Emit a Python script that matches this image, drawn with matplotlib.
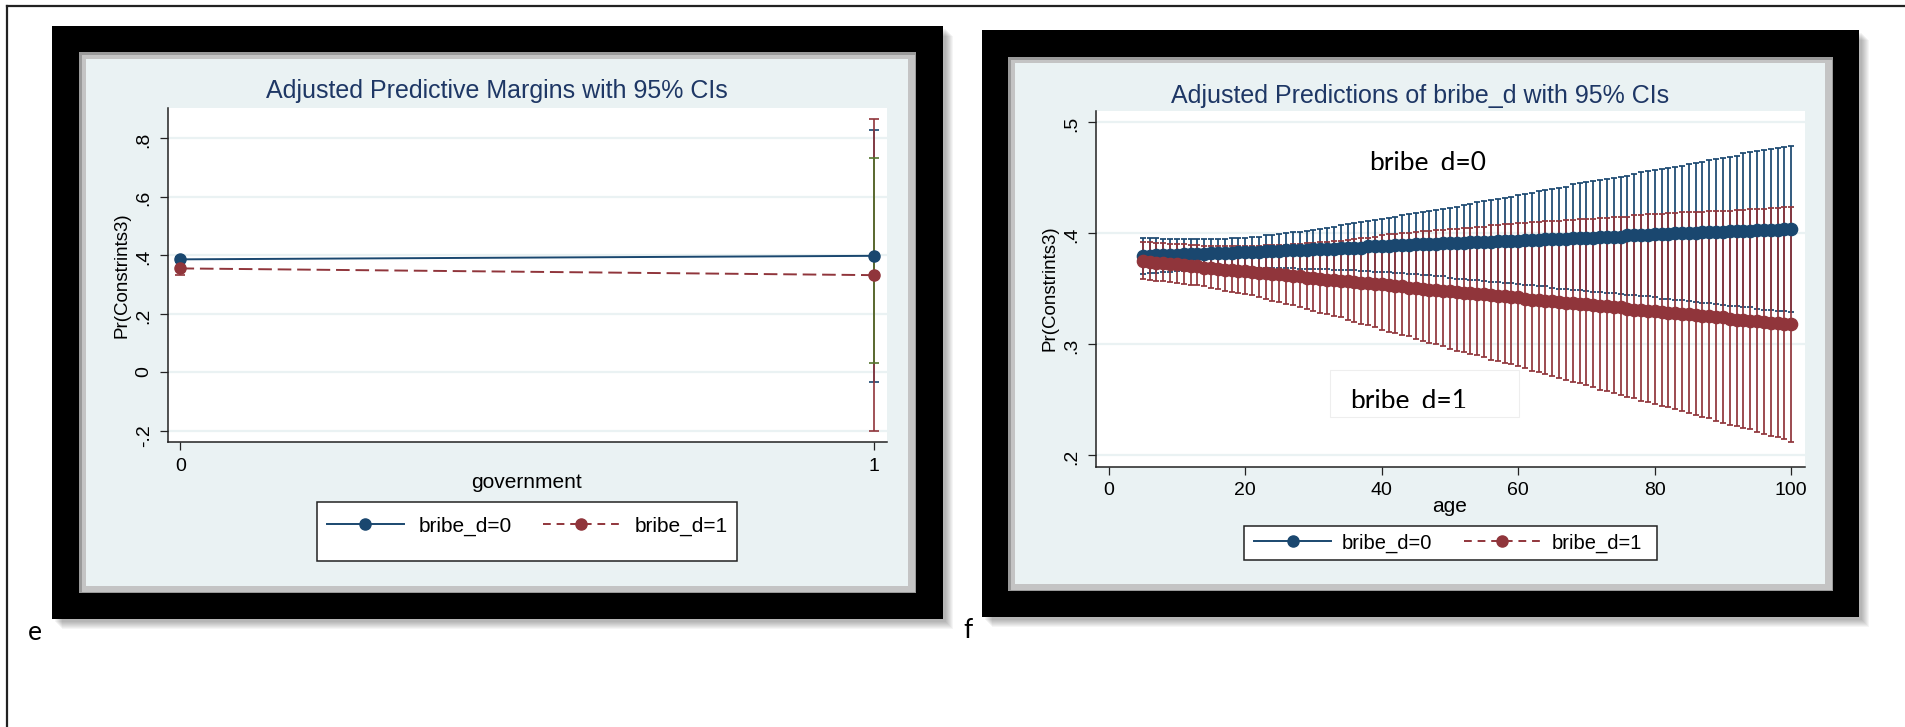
import numpy as np
import matplotlib
matplotlib.use("Agg")
import matplotlib.pyplot as plt
from matplotlib.patches import Rectangle
from matplotlib.lines import Line2D
from matplotlib.transforms import Bbox, TransformedBbox

# ---- panel e : margins by government ----
gov = [0, 1]
e_blue = [0.386, 0.398]
e_blue_lo = [0.378, -0.032]
e_blue_hi = [0.395, 0.827]
e_red = [0.355, 0.332]
e_red_lo = [0.334, -0.200]
e_red_hi = [0.377, 0.865]
e_green_x = [1]
e_green_lo = [0.032]
e_green_hi = [0.733]
e_yticks = [-0.2, 0, 0.2, 0.4, 0.6, 0.8]
e_ylabels = ['-.2', '0', '.2', '.4', '.6', '.8']

# ---- panel f : predictions by age (5..100) ----
age = list(range(5, 101))
f_blue = [.379, .379, .380, .380, .380, .380, .381, .381, .381, .381,
          .382, .382, .382, .382, .383, .383, .383, .383, .384, .384,
          .384, .385, .385, .385, .385, .386, .386, .386, .386, .387,
          .387, .387, .387, .388, .388, .388, .388, .389, .389, .389,
          .390, .390, .390, .390, .391, .391, .391, .391, .392, .392,
          .392, .392, .393, .393, .393, .393, .394, .394, .394, .395,
          .395, .395, .395, .396, .396, .396, .396, .397, .397, .397,
          .397, .398, .398, .398, .398, .399, .399, .399, .400, .400,
          .400, .400, .401, .401, .401, .401, .402, .402, .402, .402,
          .403, .403, .403, .403, .404, .404]
f_blue_hi = [.396, .396, .396, .395, .395, .395, .395, .395, .395, .395,
             .395, .395, .395, .396, .396, .396, .397, .397, .398, .398,
             .399, .400, .401, .401, .402, .403, .404, .405, .406, .407,
             .408, .409, .410, .411, .412, .413, .414, .415, .416, .417,
             .418, .419, .420, .421, .422, .423, .424, .425, .426, .428,
             .429, .430, .431, .432, .433, .434, .435, .436, .438, .439,
             .440, .441, .442, .444, .445, .446, .447, .448, .449, .450,
             .451, .452, .453, .455, .456, .457, .458, .459, .460, .461,
             .462, .463, .464, .466, .467, .468, .469, .470, .472, .473,
             .474, .475, .476, .477, .478, .479]
f_blue_lo = [.363, .364, .364, .365, .365, .366, .366, .367, .367, .368,
             .368, .368, .368, .369, .369, .369, .369, .369, .369, .369,
             .369, .369, .369, .368, .368, .368, .368, .368, .367, .367,
             .367, .367, .366, .366, .365, .365, .365, .364, .364, .363,
             .363, .362, .362, .361, .361, .360, .359, .359, .358, .358,
             .357, .356, .356, .355, .355, .354, .353, .353, .352, .352,
             .351, .350, .350, .349, .349, .348, .347, .347, .346, .346,
             .345, .344, .344, .343, .343, .342, .341, .341, .340, .340,
             .339, .338, .337, .337, .336, .335, .334, .334, .333, .333,
             .332, .331, .331, .330, .330, .329]
f_red = [.375, .374, .373, .373, .372, .372, .371, .370, .370, .369,
         .369, .368, .367, .367, .366, .366, .365, .364, .364, .363,
         .363, .362, .361, .361, .360, .360, .359, .358, .358, .357,
         .357, .356, .355, .355, .354, .354, .353, .352, .352, .351,
         .351, .350, .349, .349, .348, .348, .347, .346, .346, .345,
         .345, .344, .343, .343, .342, .342, .341, .340, .340, .339,
         .339, .338, .337, .337, .336, .336, .335, .334, .334, .333,
         .333, .332, .331, .331, .330, .330, .329, .328, .328, .327,
         .327, .326, .325, .325, .324, .324, .323, .322, .322, .321,
         .321, .320, .319, .319, .318, .318]
f_red_hi = [.392, .392, .391, .391, .390, .390, .390, .389, .389, .388,
            .388, .388, .388, .388, .388, .388, .388, .388, .389, .389,
            .389, .389, .390, .390, .391, .391, .392, .392, .393, .393,
            .394, .395, .396, .396, .397, .398, .399, .399, .400, .400,
            .401, .402, .402, .403, .403, .404, .404, .405, .405, .406,
            .406, .407, .407, .408, .408, .409, .409, .410, .410, .411,
            .411, .411, .412, .412, .413, .413, .413, .414, .414, .415,
            .415, .415, .416, .416, .417, .417, .417, .418, .418, .419,
            .419, .419, .419, .420, .420, .420, .420, .421, .421, .422,
            .422, .422, .423, .423, .424, .424]
f_red_lo = [.359, .358, .357, .357, .356, .355, .354, .353, .353, .352,
            .351, .350, .348, .347, .346, .345, .344, .342, .341, .339,
            .338, .336, .335, .333, .332, .330, .328, .327, .325, .324,
            .322, .320, .318, .317, .315, .313, .311, .310, .308, .307,
            .305, .303, .301, .300, .298, .296, .294, .293, .291, .290,
            .288, .286, .285, .283, .282, .280, .278, .276, .275, .273,
            .271, .269, .268, .266, .265, .263, .261, .259, .258, .256,
            .254, .252, .251, .249, .248, .246, .244, .243, .241, .240,
            .238, .236, .234, .233, .231, .229, .227, .226, .224, .223,
            .221, .219, .217, .216, .214, .212]
f_yticks = [0.2, 0.3, 0.4, 0.5]
f_ylabels = ['.2', '.3', '.4', '.5']
f_xticks = [0, 20, 40, 60, 80, 100]

NAVY = '#1a476f'
MAROON = '#90353b'
GREEN = '#55752f'
BG = '#eaf2f3'
TITLE = '#1e3765'
SANS = 'Liberation Sans'
CAL = 'Lato'

W, H = 1905, 727
fig = plt.figure(figsize=(W / 100, H / 100), dpi=100)


def rect(x0, y0, x1, y1, **kw):
    r = Rectangle((x0 / W, 1 - y1 / H), (x1 - x0) / W, (y1 - y0) / H,
                  transform=fig.transFigure, **kw)
    fig.add_artist(r)
    return r


def text(x, y, s, **kw):
    return fig.text(x / W, 1 - y / H, s, **kw)


def axes(x0, y0, x1, y1):
    return fig.add_axes([x0 / W, 1 - y1 / H, (x1 - x0) / W, (y1 - y0) / H])


def clip_px(t, x0, y0, x1, y1):
    # clip a text to a box given in pixels (top-left origin)
    t.set_clip_box(TransformedBbox(Bbox.from_extents(x0 / W, 1 - y1 / H,
                                                     x1 / W, 1 - y0 / H), fig.transFigure))
    t.set_clip_on(True)


def frame(x0, y0, x1, y1, in0, in1):
    # soft drop shadow
    for k in range(8):
        rect(x0 + 3 + k, y0 + 3 + k, x1 + 3 + k, y1 + 3 + k,
             facecolor='black', edgecolor='none', alpha=0.04, zorder=-10)
    rect(x0, y0, x1, y1, facecolor='black', edgecolor='none', zorder=-9)
    # grey bevel + light graph region
    rect(*in0, facecolor='#9a9a9a', edgecolor='none', zorder=-8)
    rect(in0[0] + 3, in0[1] + 3, in0[2] - 1, in0[3] - 1,
         facecolor='#c4c4c4', edgecolor='none', zorder=-8)
    rect(*in1, facecolor=BG, edgecolor='none', zorder=-7)


def style(ax):
    ax.set_facecolor('white')
    for s in ['top', 'right']:
        ax.spines[s].set_visible(False)
    for s in ['left', 'bottom']:
        ax.spines[s].set_linewidth(1.1)
        ax.spines[s].set_color('#222222')
    ax.grid(axis='y', color=BG, lw=1.6)
    ax.set_axisbelow(True)
    ax.tick_params(length=6, width=0.9, color='#222222', labelsize=14,
                   labelfontfamily=SANS)
    ax.tick_params(axis='y', labelrotation=90, pad=5)
    ax.tick_params(axis='x', pad=5)


# page border
fig.add_artist(Line2D([7 / W, 1], [1 - 6 / H, 1 - 6 / H], transform=fig.transFigure,
                      color='#222222', lw=1.6))
fig.add_artist(Line2D([7 / W, 7 / W], [1 - 6 / H, 0], transform=fig.transFigure,
                      color='#222222', lw=1.6))

frame(52, 26, 943, 619, (79, 52, 916, 593), (86, 59, 908, 586))
frame(982, 30, 1859, 617, (1008, 57, 1833, 591), (1015, 63, 1825, 584))

# ---------------- panel e ----------------
ax = axes(168, 107.7, 886.7, 442.3)
style(ax)
b = np.array(e_blue)
r = np.array(e_red)
ax.errorbar(gov, b, yerr=[b - np.array(e_blue_lo), np.array(e_blue_hi) - b],
            fmt='none', ecolor=NAVY, elinewidth=1.2, capsize=3.8, capthick=1.2)
ax.errorbar(gov, r, yerr=[r - np.array(e_red_lo), np.array(e_red_hi) - r],
            fmt='none', ecolor=MAROON, elinewidth=1.2, capsize=3.8, capthick=1.2)
g_lo = np.array(e_green_lo)
g_hi = np.array(e_green_hi)
ax.errorbar(e_green_x, (g_lo + g_hi) / 2, yerr=(g_hi - g_lo) / 2,
            fmt='none', ecolor=GREEN, elinewidth=1.2, capsize=3.8, capthick=1.2)
ax.plot(gov, e_blue, '-o', color=NAVY, lw=1.4, ms=8, clip_on=False)
ax.plot(gov, e_red, '--o', color=MAROON, lw=1.4, ms=8, dashes=(7, 3), clip_on=False)
ax.set_xlim(-0.018, 1.018)
ax.set_ylim(-0.2393, 0.9043)
ax.set_xticks(gov)
ax.set_yticks(e_yticks, e_ylabels)

text(497, 91, 'Adjusted Predictive Margins with 95% CIs', ha='center', va='center',
     fontsize=18, color=TITLE, family=SANS)
text(121.5, 275, 'Pr(Constrints3)', rotation=90, ha='center', va='center',
     fontsize=13.5, family=SANS)
text(527, 482.7, 'government', ha='center', va='center', fontsize=15, family=SANS)

rect(317, 502, 737, 561, facecolor='white', edgecolor='#222222', lw=1.1, zorder=2)
handles = [Line2D([], [], color=NAVY, marker='o', ms=8, lw=1.4),
           Line2D([], [], color=MAROON, marker='o', ms=8, lw=1.4, ls='--', dashes=(4, 3))]
leg = fig.legend(handles, ['bribe_d=0', 'bribe_d=1'], loc='center',
                 bbox_to_anchor=(527 / W, 1 - 526 / H), ncol=2, frameon=False,
                 prop={'family': SANS, 'size': 15}, handlelength=3.7,
                 handletextpad=0.7, columnspacing=1.5, numpoints=1)
leg.set_zorder(3)

text(35, 633, 'e', ha='center', va='center', fontsize=19, family=CAL)

# ---------------- panel f ----------------
ax2 = axes(1096, 111, 1804.5, 466.7)
style(ax2)
fb = np.array(f_blue)
fr = np.array(f_red)
ax2.errorbar(age, fb, yerr=[fb - np.array(f_blue_lo), np.array(f_blue_hi) - fb],
             fmt='none', ecolor=NAVY, elinewidth=1.25, capsize=2.5, capthick=1.25)
ax2.errorbar(age, fr, yerr=[fr - np.array(f_red_lo), np.array(f_red_hi) - fr],
             fmt='none', ecolor=MAROON, elinewidth=1.25, capsize=2.5, capthick=1.25)
ax2.plot(age, f_blue, '-o', color=NAVY, lw=1.5, ms=8.8)
ax2.plot(age, f_red, '--o', color=MAROON, lw=1.5, ms=8.8)
ax2.set_xlim(-1.86, 101.95)
ax2.set_ylim(0.1894, 0.5102)
ax2.set_xticks(f_xticks)
ax2.set_yticks(f_yticks, f_ylabels)

text(1420, 96, 'Adjusted Predictions of bribe_d with 95% CIs', ha='center', va='center',
     fontsize=18, color=TITLE, family=SANS)
text(1050, 288.5, 'Pr(Constrints3)', rotation=90, ha='center', va='center',
     fontsize=13.5, family=SANS)
text(1450, 507, 'age', ha='center', va='center', fontsize=15, family=SANS)

# pasted text boxes (bottoms clipped as in the original)
t0 = text(1369, 171, 'bribe_d=0', ha='left', va='baseline', fontsize=19, family=CAL,
          zorder=6)
clip_px(t0, 1300, 130, 1560, 169.5)
rect(1330, 370, 1519, 417, facecolor='white', edgecolor='#eeeeee', lw=0.8, zorder=5)
t1 = text(1350, 409, 'bribe_d=1', ha='left', va='baseline', fontsize=19, family=CAL,
          zorder=6)
clip_px(t1, 1300, 370, 1560, 407.7)

rect(1243.5, 526, 1656.5, 560, facecolor='white', edgecolor='#222222', lw=1.1, zorder=2)
handles2 = [Line2D([], [], color=NAVY, marker='o', ms=8, lw=1.4),
            Line2D([], [], color=MAROON, marker='o', ms=8, lw=1.4, ls='--', dashes=(4, 3))]
leg2 = fig.legend(handles2, ['bribe_d=0', 'bribe_d=1'], loc='center',
                  bbox_to_anchor=(1448 / W, 1 - 543 / H), ncol=2, frameon=False,
                  prop={'family': SANS, 'size': 14.5}, handlelength=3.8,
                  handletextpad=0.55, columnspacing=1.55, numpoints=1)
leg2.set_zorder(3)

text(968, 630, 'f', ha='center', va='center', fontsize=19, family=CAL)

fig.savefig('out.png', dpi=100, facecolor='white')
